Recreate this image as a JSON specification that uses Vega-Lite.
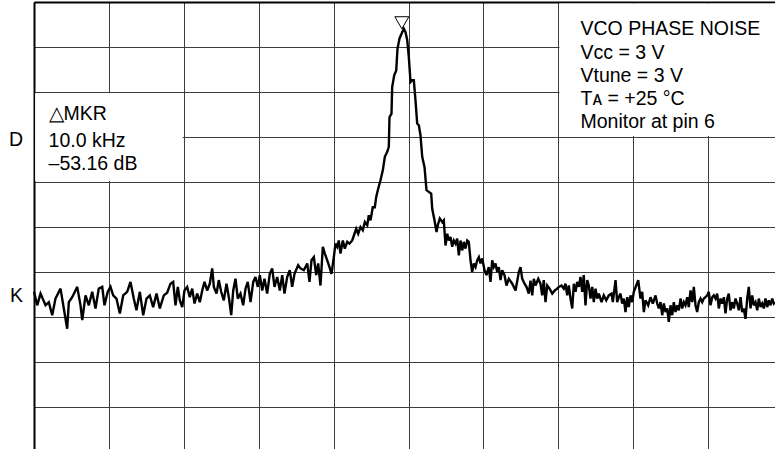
{
  "$schema": "https://vega.github.io/schema/vega-lite/v6.json",
  "width": 741,
  "height": 447,
  "autosize": {"type": "none"},
  "padding": {"left": 34, "top": 2, "right": 0, "bottom": 0},
  "background": "white",
  "config": {
    "view": {"stroke": null},
    "axis": {"grid": true, "gridColor": "#3c3c3c", "gridWidth": 1, "gridOpacity": 1, "labels": false, "ticks": false, "domain": true, "domainColor": "#000", "domainWidth": 2, "title": null}
  },
  "datasets": {
    "trace": [
{"f":-50.0,"dB":-64.4},{"f":-49.57,"dB":-67.4},{"f":-49.13,"dB":-64.8},{"f":-48.46,"dB":-67.4},{"f":-48.02,"dB":-66.7},{"f":-47.57,"dB":-69.6},{"f":-47.13,"dB":-65.9},{"f":-46.46,"dB":-63.7},{"f":-46.02,"dB":-68.1},{"f":-45.57,"dB":-72.6},{"f":-45.35,"dB":-66.7},{"f":-44.90,"dB":-65.6},{"f":-44.23,"dB":-63.3},{"f":-43.79,"dB":-67.4},{"f":-43.56,"dB":-70.7},{"f":-43.12,"dB":-65.2},{"f":-42.68,"dB":-67.4},{"f":-42.23,"dB":-64.4},{"f":-41.79,"dB":-68.1},{"f":-41.35,"dB":-63.7},{"f":-40.89,"dB":-63.3},{"f":-40.59,"dB":-67.4},{"f":-40.15,"dB":-64.4},{"f":-39.79,"dB":-63.3},{"f":-39.43,"dB":-65.2},{"f":-38.99,"dB":-65.9},{"f":-38.54,"dB":-69.2},{"f":-38.09,"dB":-65.2},{"f":-37.56,"dB":-64.4},{"f":-37.12,"dB":-62.2},{"f":-36.68,"dB":-65.9},{"f":-36.32,"dB":-68.5},{"f":-35.87,"dB":-64.4},{"f":-35.42,"dB":-69.6},{"f":-34.98,"dB":-65.9},{"f":-34.54,"dB":-65.2},{"f":-34.09,"dB":-67.8},{"f":-33.64,"dB":-64.8},{"f":-33.20,"dB":-68.1},{"f":-32.67,"dB":-65.2},
{"f":-32.22,"dB":-64.6},{"f":-31.78,"dB":-62.6},{"f":-31.42,"dB":-62.2},{"f":-31.11,"dB":-67.4},{"f":-30.80,"dB":-63.3},{"f":-30.53,"dB":-66.3},{"f":-30.21,"dB":-67.8},{"f":-29.91,"dB":-64.1},{"f":-29.55,"dB":-63.3},{"f":-29.20,"dB":-65.6},{"f":-28.88,"dB":-63.7},{"f":-28.57,"dB":-67.0},{"f":-28.21,"dB":-64.8},{"f":-27.86,"dB":-66.7},{"f":-27.54,"dB":-64.1},{"f":-27.24,"dB":-62.2},{"f":-26.88,"dB":-64.1},{"f":-26.53,"dB":-62.6},{"f":-26.21,"dB":-59.2},{"f":-25.99,"dB":-63.3},{"f":-25.63,"dB":-64.8},{"f":-25.33,"dB":-61.8},{"f":-25.01,"dB":-64.4},{"f":-24.66,"dB":-66.3},{"f":-24.30,"dB":-62.6},{"f":-23.99,"dB":-65.6},{"f":-23.67,"dB":-69.6},{"f":-23.40,"dB":-64.1},{"f":-23.10,"dB":-61.5},{"f":-22.79,"dB":-65.9},{"f":-22.43,"dB":-64.8},{"f":-22.07,"dB":-67.4},{"f":-21.76,"dB":-63.7},{"f":-21.46,"dB":-62.2},{"f":-21.09,"dB":-66.7},{"f":-20.73,"dB":-62.2},{"f":-20.43,"dB":-61.1},{"f":-20.12,"dB":-63.3},{"f":-19.85,"dB":-60.7},{"f":-19.53,"dB":-64.1},{"f":-19.23,"dB":-61.5},{"f":-18.87,"dB":-64.8},{"f":-18.52,"dB":-60.4},{"f":-18.20,"dB":-59.2},{"f":-17.89,"dB":-63.3},{"f":-17.53,"dB":-61.1},{"f":-17.18,"dB":-64.1},{"f":-16.86,"dB":-60.7},{"f":-16.56,"dB":-64.8},{"f":-16.20,"dB":-61.1},{"f":-15.85,"dB":-59.6},{"f":-15.53,"dB":-63.3},{"f":-15.22,"dB":-60.4},
{"f":-14.73,"dB":-58.5},{"f":-14.42,"dB":-59.2},{"f":-13.98,"dB":-59.6},{"f":-13.52,"dB":-58.1},{"f":-13.22,"dB":-62.2},{"f":-12.95,"dB":-57.4},{"f":-12.64,"dB":-56.7},{"f":-12.32,"dB":-60.7},{"f":-12.06,"dB":-58.1},{"f":-11.75,"dB":-63.0},{"f":-11.44,"dB":-54.4},{"f":-11.17,"dB":-55.9},{"f":-10.85,"dB":-57.4},{"f":-10.55,"dB":-58.9},{"f":-10.28,"dB":-60.4},{"f":-9.97,"dB":-56.7},{"f":-9.75,"dB":-53.7},{"f":-9.52,"dB":-54.4},{"f":-9.31,"dB":-53.0},{"f":-9.08,"dB":-55.9},{"f":-8.77,"dB":-53.0},{"f":-8.50,"dB":-54.8},{"f":-8.18,"dB":-53.3},{"f":-7.88,"dB":-53.7},{"f":-7.52,"dB":-53.0},{"f":-7.21,"dB":-51.5},{"f":-6.98,"dB":-50.4},{"f":-6.72,"dB":-51.5},{"f":-6.41,"dB":-50.0},{"f":-6.10,"dB":-50.7},{"f":-5.83,"dB":-48.9},{"f":-5.51,"dB":-49.6},{"f":-5.30,"dB":-47.4},{"f":-5.07,"dB":-48.5},{"f":-4.77,"dB":-45.6},{"f":-4.50,"dB":-45.6},{"f":-4.31,"dB":-43.3},{"f":-4.05,"dB":-41.5},{"f":-3.74,"dB":-39.6},{"f":-3.43,"dB":-37.4},{"f":-3.16,"dB":-34.4},{"f":-2.84,"dB":-33.3},{"f":-2.63,"dB":-32.2},{"f":-2.54,"dB":-25.6},{"f":-2.27,"dB":-24.8},{"f":-2.18,"dB":-18.9},{"f":-1.91,"dB":-16.3},{"f":-1.64,"dB":-15.2},{"f":-1.47,"dB":-10.4},{"f":-1.20,"dB":-8.1},{"f":-0.84,"dB":-6.7},{"f":-0.63,"dB":-5.9},
{"f":-0.40,"dB":-6.7},{"f":-0.17,"dB":-8.5},{"f":0.04,"dB":-12.2},{"f":0.27,"dB":-17.8},{"f":0.49,"dB":-17.4},{"f":0.71,"dB":-17.4},{"f":0.93,"dB":-21.8},{"f":1.16,"dB":-27.0},{"f":1.38,"dB":-27.4},{"f":1.60,"dB":-29.6},{"f":1.83,"dB":-34.4},{"f":2.14,"dB":-36.7},{"f":2.40,"dB":-41.8},{"f":2.71,"dB":-42.2},{"f":3.03,"dB":-42.6},{"f":3.16,"dB":-45.9},{"f":3.47,"dB":-48.5},{"f":3.74,"dB":-51.1},{"f":3.91,"dB":-49.6},{"f":4.18,"dB":-48.1},{"f":4.50,"dB":-48.9},{"f":4.71,"dB":-48.5},{"f":4.94,"dB":-54.1},{"f":5.17,"dB":-51.5},{"f":5.38,"dB":-53.0},{"f":5.61,"dB":-52.2},{"f":5.83,"dB":-54.4},{"f":6.05,"dB":-53.0},{"f":6.28,"dB":-53.7},{"f":6.50,"dB":-52.6},{"f":6.72,"dB":-56.3},{"f":6.94,"dB":-53.0},{"f":7.17,"dB":-55.2},{"f":7.38,"dB":-53.3},{"f":7.61,"dB":-54.8},{"f":7.84,"dB":-53.0},{"f":8.05,"dB":-53.3},{"f":8.28,"dB":-57.4},{"f":8.50,"dB":-60.0},{"f":8.72,"dB":-58.1},{"f":8.95,"dB":-58.9},{"f":9.17,"dB":-57.4},{"f":9.39,"dB":-56.7},{"f":9.61,"dB":-58.1},{"f":9.84,"dB":-57.0},{"f":10.15,"dB":-59.6},{"f":10.41,"dB":-60.7},{"f":10.72,"dB":-58.9},{"f":10.95,"dB":-62.2},{"f":11.17,"dB":-57.4},{"f":11.39,"dB":-58.9},{"f":11.62,"dB":-58.1},{"f":11.84,"dB":-60.0},{"f":12.06,"dB":-58.9},{"f":12.28,"dB":-61.8},{"f":12.51,"dB":-59.6},{"f":12.82,"dB":-60.7},{"f":13.08,"dB":-63.0},{"f":13.39,"dB":-61.5},{"f":13.85,"dB":-62.6},{"f":14.29,"dB":-64.1},{"f":14.73,"dB":-60.0},{"f":14.95,"dB":-58.9},{"f":15.18,"dB":-61.5},{"f":15.49,"dB":-62.6},{"f":15.75,"dB":-63.3},{"f":16.06,"dB":-64.8},
{"f":16.29,"dB":-61.9},{"f":16.52,"dB":-65.2},{"f":16.73,"dB":-61.5},{"f":16.96,"dB":-63.0},{"f":17.32,"dB":-61.5},{"f":17.62,"dB":-62.6},{"f":17.85,"dB":-65.2},{"f":18.06,"dB":-61.8},{"f":18.29,"dB":-66.7},{"f":18.52,"dB":-63.0},{"f":18.83,"dB":-63.7},{"f":19.19,"dB":-64.8},{"f":19.53,"dB":-64.1},{"f":19.85,"dB":-63.7},{"f":20.07,"dB":-63.3},{"f":20.43,"dB":-63.0},{"f":20.73,"dB":-63.7},{"f":20.96,"dB":-62.6},{"f":21.19,"dB":-65.2},{"f":21.40,"dB":-63.0},{"f":21.63,"dB":-65.9},{"f":21.86,"dB":-68.1},{"f":22.07,"dB":-62.6},{"f":22.30,"dB":-64.4},{"f":22.52,"dB":-62.2},{"f":22.74,"dB":-63.3},{"f":22.96,"dB":-61.1},{"f":23.19,"dB":-64.4},{"f":23.40,"dB":-60.7},{"f":23.63,"dB":-67.4},{"f":23.86,"dB":-61.8},{"f":24.07,"dB":-63.0},{"f":24.30,"dB":-65.9},{"f":24.53,"dB":-63.3},{"f":24.74,"dB":-66.7},{"f":24.97,"dB":-63.7},{"f":25.19,"dB":-65.9},{"f":25.41,"dB":-64.8},{"f":25.77,"dB":-66.7},{"f":26.07,"dB":-65.2},{"f":26.40,"dB":-66.3},{"f":26.74,"dB":-65.2},{"f":27.10,"dB":-64.8},{"f":27.28,"dB":-66.7},{"f":27.64,"dB":-61.8},{"f":27.86,"dB":-66.7},{"f":28.08,"dB":-65.6},{"f":28.30,"dB":-64.8},{"f":28.53,"dB":-67.0},{"f":28.75,"dB":-65.9},{"f":28.97,"dB":-68.9},{"f":29.20,"dB":-65.6},{"f":29.41,"dB":-67.8},{"f":29.64,"dB":-65.2},{"f":29.87,"dB":-66.7},{"f":30.08,"dB":-64.4},{"f":30.40,"dB":-63.0},{"f":30.67,"dB":-61.8},{"f":30.97,"dB":-65.9},{"f":31.20,"dB":-64.4},{"f":31.42,"dB":-68.9},{"f":31.64,"dB":-66.3},{"f":32.00,"dB":-67.4},{"f":32.31,"dB":-65.6},{"f":32.62,"dB":-67.0},
{"f":32.98,"dB":-65.2},{"f":33.20,"dB":-67.0},{"f":33.42,"dB":-68.1},{"f":33.64,"dB":-66.7},{"f":33.87,"dB":-69.6},{"f":34.09,"dB":-67.0},{"f":34.31,"dB":-68.9},{"f":34.54,"dB":-68.1},{"f":34.75,"dB":-71.1},{"f":34.98,"dB":-67.4},{"f":35.21,"dB":-69.6},{"f":35.42,"dB":-66.7},{"f":35.65,"dB":-68.9},{"f":35.87,"dB":-67.4},{"f":36.09,"dB":-68.5},{"f":36.32,"dB":-65.9},{"f":36.54,"dB":-68.1},{"f":36.76,"dB":-66.7},{"f":36.98,"dB":-67.4},{"f":37.21,"dB":-65.6},{"f":37.42,"dB":-67.8},{"f":37.65,"dB":-64.1},{"f":37.88,"dB":-66.7},{"f":38.09,"dB":-63.3},{"f":38.32,"dB":-67.4},{"f":38.54,"dB":-68.9},{"f":38.76,"dB":-66.7},{"f":38.99,"dB":-65.9},{"f":39.21,"dB":-66.7},{"f":39.43,"dB":-65.9},{"f":39.65,"dB":-65.6},{"f":39.88,"dB":-65.2},{"f":40.09,"dB":-64.4},{"f":40.32,"dB":-67.4},{"f":40.55,"dB":-65.6},{"f":40.76,"dB":-65.2},{"f":40.99,"dB":-65.9},{"f":41.21,"dB":-64.8},{"f":41.43,"dB":-68.1},{"f":41.66,"dB":-65.9},{"f":41.88,"dB":-67.0},{"f":42.10,"dB":-65.6},{"f":42.32,"dB":-69.2},{"f":42.55,"dB":-65.9},{"f":42.76,"dB":-64.8},{"f":42.99,"dB":-68.5},{"f":43.22,"dB":-66.7},{"f":43.43,"dB":-68.1},{"f":43.66,"dB":-65.9},{"f":43.88,"dB":-67.0},{"f":44.10,"dB":-68.5},{"f":44.33,"dB":-65.6},{"f":44.55,"dB":-68.9},{"f":44.77,"dB":-68.1},{"f":44.99,"dB":-70.4},{"f":45.22,"dB":-65.9},{"f":45.43,"dB":-63.3},{"f":45.66,"dB":-68.1},{"f":45.89,"dB":-65.2},{"f":46.10,"dB":-67.4},{"f":46.33,"dB":-66.7},{"f":46.56,"dB":-68.5},{"f":46.77,"dB":-65.9},{"f":47.00,"dB":-67.8},{"f":47.22,"dB":-67.0},{"f":47.44,"dB":-68.1},{"f":47.66,"dB":-65.9},{"f":47.89,"dB":-67.8},{"f":48.10,"dB":-66.3},{"f":48.33,"dB":-67.4},{"f":48.56,"dB":-65.9},{"f":48.77,"dB":-67.0},{"f":48.93,"dB":-66.7}
    ],
    "boxes": [
      {"f": -49.85, "f2": -30.15, "dB": -20.25, "dB2": -39.75},
      {"f": 20.15, "f2": 48.93, "dB": -0.35, "dB2": -29.75}
    ],
    "notes": [
      {"f": -48.06, "dB": -26.3, "t": "△MKR"},
      {"f": -48.06, "dB": -32.2, "t": "10.0 kHz"},
      {"f": -48.06, "dB": -37.4, "t": "–53.16 dB"},
      {"f": 22.96, "dB": -7.4, "t": "VCO PHASE NOISE"},
      {"f": 22.96, "dB": -12.6, "t": "Vᴄᴄ = 3 V"},
      {"f": 22.96, "dB": -17.7, "t": "Vtune = 3 V"},
      {"f": 22.96, "dB": -22.9, "t": "Tᴀ = +25 °C"},
      {"f": 22.96, "dB": -28.1, "t": "Monitor at pin 6"}
    ],
    "side": [
      {"f": -51.45, "dB": -30.7, "t": "D"},
      {"f": -51.45, "dB": -65.3, "t": "K"}
    ],
    "marker": [
      {"f": -0.89, "dB": -4.62}
    ]
  },
  "layer": [
    {
      "data": {"name": "boxes"},
      "mark": {"type": "rect", "fill": "white", "stroke": null},
      "encoding": {
        "x": {"field": "f", "type": "quantitative", "scale": {"domain": [-50, 48.93], "nice": false, "zero": false}, "axis": {"orient": "top", "values": [-50, -40, -30, -20, -10, 0, 10, 20, 30, 40]}},
        "x2": {"field": "f2"},
        "y": {"field": "dB", "type": "quantitative", "scale": {"domain": [-99.33, 0], "nice": false, "zero": false}, "axis": {"orient": "left", "values": [0, -10, -20, -30, -40, -50, -60, -70, -80, -90]}},
        "y2": {"field": "dB2"}
      }
    },
    {
      "data": {"name": "trace"},
      "mark": {"type": "line", "color": "black", "strokeWidth": 2.4, "strokeJoin": "miter", "strokeMiterLimit": 3},
      "encoding": {
        "x": {"field": "f", "type": "quantitative", "scale": {"domain": [-50, 48.93], "nice": false, "zero": false}},
        "y": {"field": "dB", "type": "quantitative", "scale": {"domain": [-99.33, 0], "nice": false, "zero": false}}
      }
    },
    {
      "data": {"name": "marker"},
      "mark": {"type": "point", "shape": "triangle-down", "filled": false, "stroke": "black", "strokeWidth": 1, "size": 196, "opacity": 1},
      "encoding": {
        "x": {"field": "f", "type": "quantitative", "scale": {"domain": [-50, 48.93], "nice": false, "zero": false}},
        "y": {"field": "dB", "type": "quantitative", "scale": {"domain": [-99.33, 0], "nice": false, "zero": false}}
      }
    },
    {
      "data": {"name": "notes"},
      "mark": {"type": "text", "align": "left", "baseline": "alphabetic", "font": "Liberation Sans", "fontSize": 19.5, "color": "black"},
      "encoding": {
        "x": {"field": "f", "type": "quantitative", "scale": {"domain": [-50, 48.93], "nice": false, "zero": false}},
        "y": {"field": "dB", "type": "quantitative", "scale": {"domain": [-99.33, 0], "nice": false, "zero": false}},
        "text": {"field": "t"}
      }
    },
    {
      "data": {"name": "side"},
      "mark": {"type": "text", "align": "right", "baseline": "middle", "font": "Liberation Sans", "fontSize": 19.5, "color": "black"},
      "encoding": {
        "x": {"field": "f", "type": "quantitative", "scale": {"domain": [-50, 48.93], "nice": false, "zero": false}},
        "y": {"field": "dB", "type": "quantitative", "scale": {"domain": [-99.33, 0], "nice": false, "zero": false}},
        "text": {"field": "t"}
      }
    }
  ]
}
